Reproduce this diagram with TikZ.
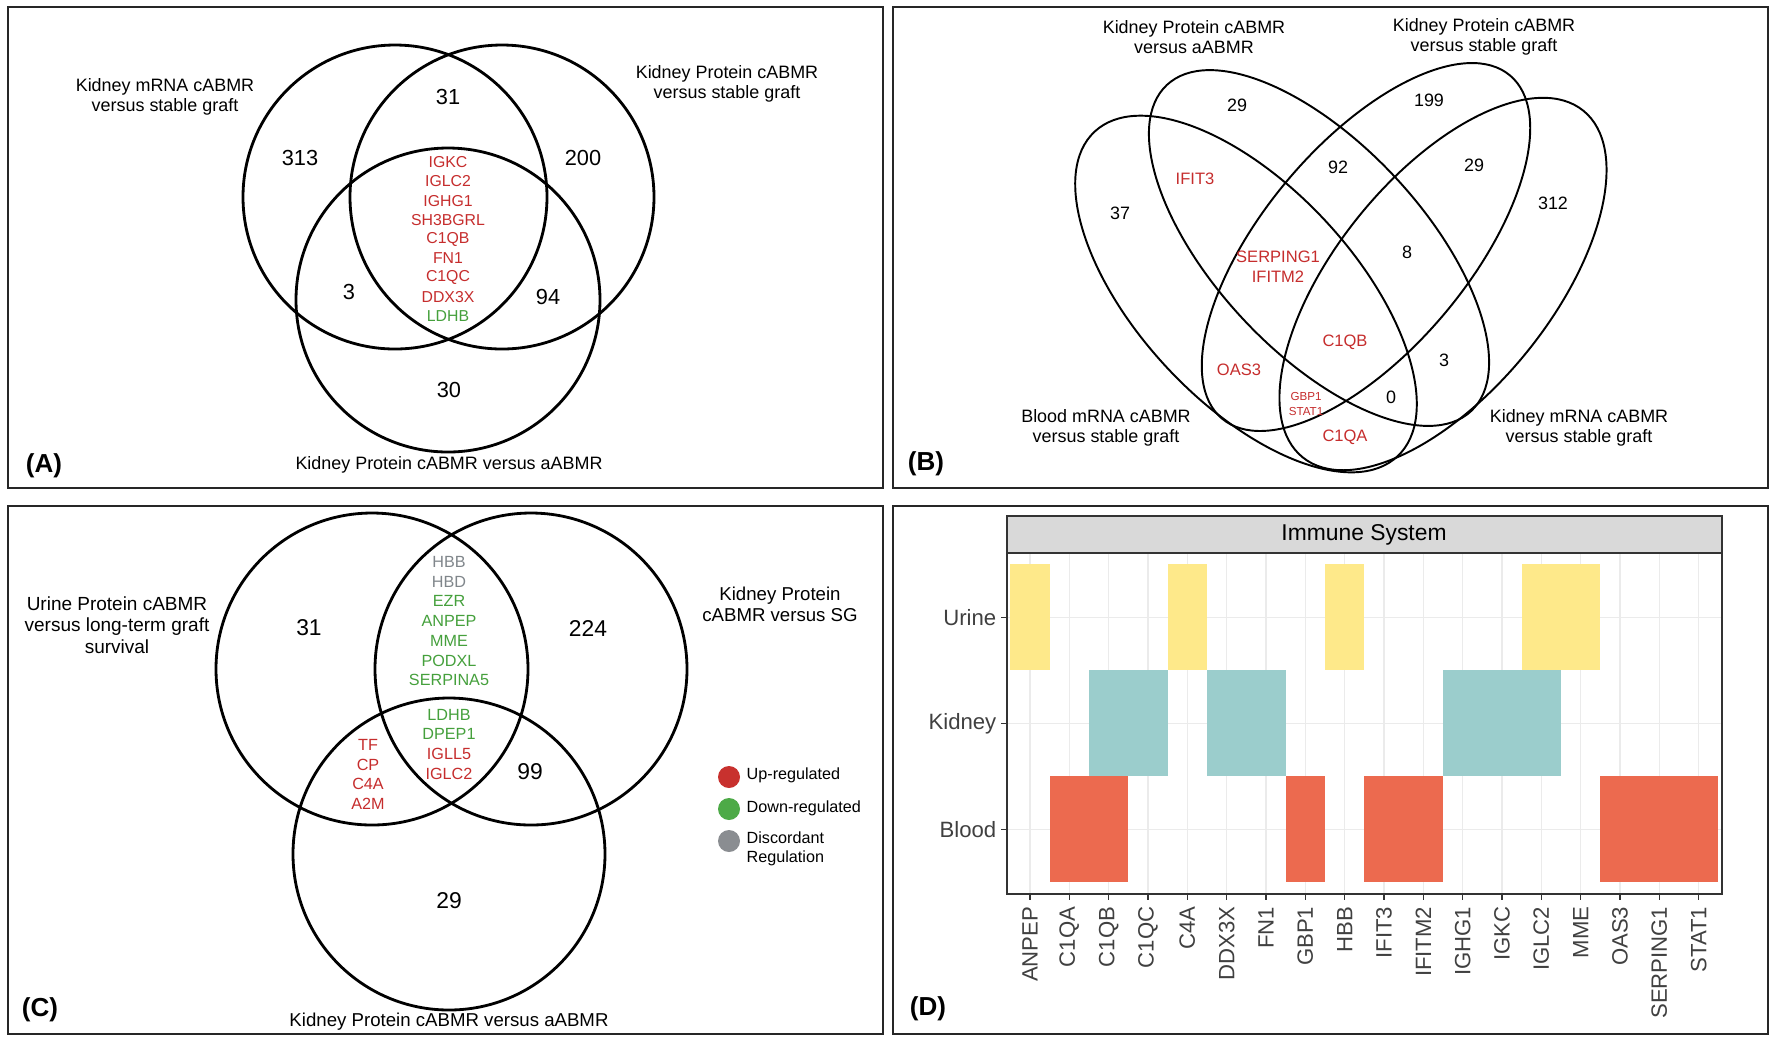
\documentclass[tikz,border=0pt]{standalone}
\usepackage{fontspec}
\setmainfont{Liberation Sans}
\usepackage{tikz}
\tikzset{>=latex}
\definecolor{upred}{HTML}{C62D2D}
\definecolor{downgreen}{HTML}{45A03C}
\definecolor{discgray}{HTML}{80868B}
\definecolor{dotred}{HTML}{C8312E}
\definecolor{dotgreen}{HTML}{4DAA47}
\definecolor{dotgray}{HTML}{8A8D91}
\definecolor{tileyellow}{HTML}{FEE98A}
\definecolor{tileteal}{HTML}{9BCDCC}
\definecolor{tilered}{HTML}{EC6A4F}
\definecolor{stripgray}{HTML}{D9D9D9}
\definecolor{gridgray}{HTML}{EBEBEB}
\newcommand\fsize[2]{\fontsize{#1}{#2}\selectfont}
% one tile of the heat map: gene index, row centre, colour
\newcommand\tile[3]{
    \fill[#3] ({1030+39.33*(#1-0.5)},{#2-53}) rectangle ++(39.33,106);
}
\tikzset{
    panel/.style={draw=black!85,line width=0.8pt},
    venn/.style={line width=0.8pt},
    quad/.style={line width=0.55pt},
    txt/.style={inner sep=0pt,align=center},
    tag/.style={txt,font=\bfseries\fsize{7.4}{8}},
    gridline/.style={draw=gridgray,line width=0.45pt},
    tick/.style={draw=black!80,line width=0.45pt},
    axtxt/.style={inner sep=0pt,text=black!75,font=\fsize{6.3}{7}},
}
\begin{document}
\begin{tikzpicture}[x=0.01cm,y=-0.01cm]
\useasboundingbox (0,0) rectangle (1772,1041);
\fill[white] (0,0) rectangle (1772,1041);

% (A)
\draw[panel] (8,7) rectangle (883,488);
\draw[venn] (395,197) circle (152);
\draw[venn] (502,197) circle (152);
\draw[venn] (448,300) circle (152);
\node[txt,font=\fsize{5.1}{5.7}] (amrna) at (165,97) {Kidney mRNA cABMR\\versus stable graft};
\node[txt,font=\fsize{5.1}{5.7}] (aprot) at (727,84) {Kidney Protein cABMR\\versus stable graft};
\node[txt,font=\fsize{5.1}{5.7}] (aabmr) at (449,465) {Kidney Protein cABMR versus aABMR};
\foreach \v/\x/\y in {313/300/158, 31/448/97, 200/583/158, 3/349/292, 94/548/297, 30/449/390}
    \node[txt,font=\fsize{6.2}{7}] (a\v) at (\x,\y) {\v};
\foreach \g/\c [count=\i from 0] in {IGKC/upred, IGLC2/upred, IGHG1/upred, SH3BGRL/upred,
        C1QB/upred, FN1/upred, C1QC/upred, DDX3X/upred, LDHB/downgreen}
    \node[txt,text=\c,font=\fsize{4.5}{5}] (a\g) at (448,{162.3+19.2*\i}) {\g};
\node[tag] (atag) at (44,466) {(A)};

% (B)
\draw[panel] (893,7) rectangle (1768,488);
\draw[quad,rotate around={-47:(1246,294)}] (1246,294) ellipse [x radius=222,y radius=108];
\draw[quad,rotate around={-47:(1319,248)}] (1319,248) ellipse [x radius=223,y radius=104];
\draw[quad,rotate around={50:(1366,247)}] (1366,247) ellipse [x radius=224,y radius=103];
\draw[quad,rotate around={51:(1443,284)}] (1443,284) ellipse [x radius=223,y radius=108];
\node[txt,font=\fsize{5.1}{5.7}] (babmr) at (1194,37) {Kidney Protein cABMR\\versus aABMR};
\node[txt,font=\fsize{5.1}{5.7}] (bprot) at (1484,37) {Kidney Protein cABMR\\versus stable graft};
\node[txt,font=\fsize{5.1}{5.7}] (bblood) at (1106,428) {Blood mRNA cABMR\\versus stable graft};
\node[txt,font=\fsize{5.1}{5.7}] (bmrna) at (1579,428) {Kidney mRNA cABMR\\versus stable graft};
\foreach \v/\x/\y [count=\i] in {29/1237/105, 199/1429/100, 92/1338/167, 29/1474/165, 37/1120/213,
        312/1553/203, 8/1407/252, 3/1444/360, 0/1391/397}
    \node[txt,font=\fsize{5.1}{6}] (b\i) at (\x,\y) {\v};
\foreach \g/\x/\y in {IFIT3/1195/179, SERPING1/1278/257, IFITM2/1278/277, C1QB/1345/342,
        OAS3/1239/370, C1QA/1345/437}
    \node[txt,text=upred,font=\fsize{4.7}{5}] (b\g) at (\x,\y) {\g};
\node[txt,text=upred,font=\fsize{3.3}{4}] (bgbp) at (1306,404) {GBP1\\STAT1};
\node[tag] (btag) at (926,464) {(B)};

% (C)
\draw[panel] (8,506) rectangle (883,1034);
\draw[venn] (372,669) circle (156);
\draw[venn] (531,669) circle (156);
\draw[venn] (449,854) circle (156);
\node[txt,font=\fsize{5.4}{6.1}] (curine) at (117,625) {Urine Protein cABMR\\versus long-term graft\\survival};
\node[txt,font=\fsize{5.3}{6}] (cprot) at (780,604) {Kidney Protein\\cABMR versus SG};
\node[txt,font=\fsize{5.3}{6}] (cabmr) at (449,1022) {Kidney Protein cABMR versus aABMR};
\foreach \v/\x/\y in {31/309/628, 224/588/628, 99/530/772, 29/449/901}
    \node[txt,font=\fsize{6.5}{7}] (c\v) at (\x,\y) {\v};
\foreach \g/\c [count=\i from 0] in {HBB/discgray, HBD/discgray, EZR/downgreen, ANPEP/downgreen,
        MME/downgreen, PODXL/downgreen, SERPINA5/downgreen}
    \node[txt,text=\c,font=\fsize{4.6}{5}] (c\g) at (449,{562+19.7*\i}) {\g};
\foreach \g/\c [count=\i from 0] in {LDHB/downgreen, DPEP1/downgreen, IGLL5/upred, IGLC2/upred}
    \node[txt,text=\c,font=\fsize{4.6}{5}] (c\g) at (449,{714.6+19.8*\i}) {\g};
\foreach \g [count=\i from 0] in {TF, CP, C4A, A2M}
    \node[txt,text=upred,font=\fsize{4.6}{5}] (c\g) at (368,{745+19.6*\i}) {\g};
% legend
\fill[dotred] (729,777) circle (11);
\fill[dotgreen] (729,809) circle (11);
\fill[dotgray] (729,841) circle (11);
\node[txt,anchor=west,font=\fsize{4.6}{5.3}] (cup) at (746,775) {Up-regulated};
\node[txt,anchor=west,font=\fsize{4.6}{5.3}] (cdown) at (746,808) {Down-regulated};
\node[txt,anchor=west,align=left,font=\fsize{4.6}{5.3}] (cdisc) at (746,849) {Discordant\\Regulation};
\node[tag] (ctag) at (40,1010) {(C)};

% (D)
\draw[panel] (893,506) rectangle (1768,1034);
\foreach \i in {0,...,17}
    \draw[gridline] ({1030+39.33*\i},553) -- ({1030+39.33*\i},894);
\foreach \y in {617.3,723.3,829.3}
    \draw[gridline] (1007,\y) -- (1722,\y);
\foreach \i in {0,4,8,13,14} {\tile{\i}{617.3}{tileyellow}}
\foreach \i in {2,3,5,6,11,12,13} {\tile{\i}{723.3}{tileteal}}
\foreach \i in {1,2,7,9,10,15,16,17} {\tile{\i}{829.3}{tilered}}
\draw[tick] (1007,553) rectangle (1722,894);
\draw[tick,fill=stripgray] (1007,516) rectangle (1722,553);
\node[txt,font=\fsize{6.5}{7}] (dstrip) at (1364,535) {Immune System};
\foreach \r/\y in {Urine/617.3, Kidney/723.3, Blood/829.3} {
    \draw[tick] (1001,\y) -- (1007,\y);
    \node[axtxt,anchor=east] (y\r) at (997,\y) {\r};
}
\foreach \g [count=\i from 0] in {ANPEP,C1QA,C1QB,C1QC,C4A,DDX3X,FN1,GBP1,HBB,IFIT3,IFITM2,
        IGHG1,IGKC,IGLC2,MME,OAS3,SERPING1,STAT1} {
    \draw[tick] ({1030+39.33*\i},894) -- ++(0,6);
    \node[axtxt,rotate=90,anchor=east] (x\g) at ({1030+39.33*\i},906) {\g};
}
\node[tag] (dtag) at (928,1009) {(D)};
\end{tikzpicture}
\end{document}
